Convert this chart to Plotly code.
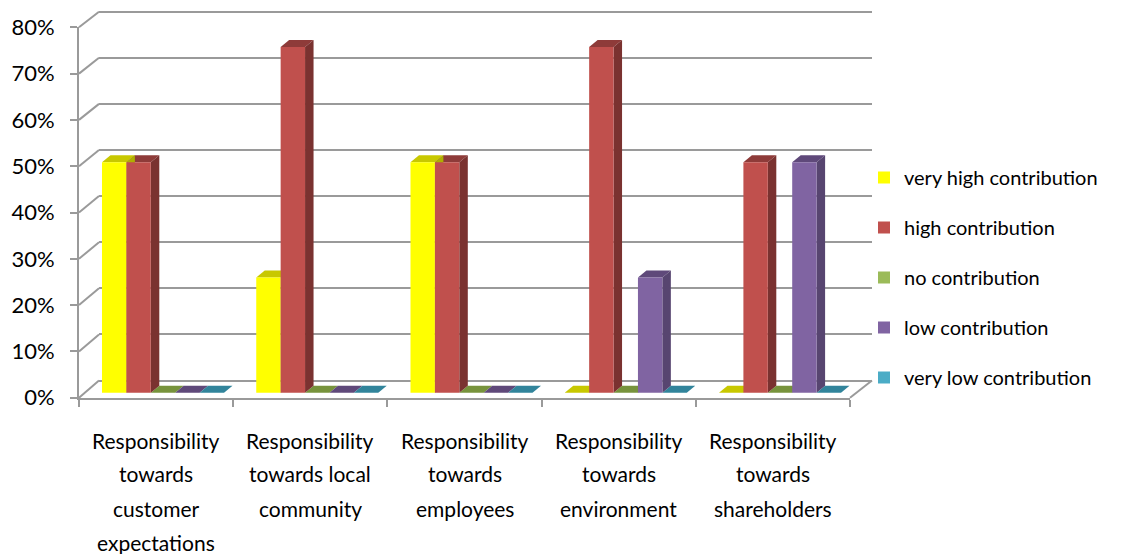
import plotly.graph_objects as go

# ---------------- data ----------------
categories = [
    "Responsibility towards customer expectations",
    "Responsibility towards local community",
    "Responsibility towards employees",
    "Responsibility towards environment",
    "Responsibility towards shareholders",
]
category_lines = [
    ["Responsibility", "towards", "customer", "expectations"],
    ["Responsibility", "towards local", "community"],
    ["Responsibility", "towards", "employees"],
    ["Responsibility", "towards", "environment"],
    ["Responsibility", "towards", "shareholders"],
]
series_names = ["very high contribution", "high contribution", "no contribution",
                "low contribution", "very low contribution"]
very_high = [0.50, 0.25, 0.50, 0.00, 0.00]
high = [0.50, 0.75, 0.50, 0.75, 0.50]
no_contrib = [0.00, 0.00, 0.00, 0.00, 0.00]
low = [0.00, 0.00, 0.00, 0.25, 0.50]
very_low = [0.00, 0.00, 0.00, 0.00, 0.00]
y_ticks = [0.0, 0.1, 0.2, 0.3, 0.4, 0.5, 0.6, 0.7, 0.8]

front_colors = ["#FFFF00", "#C0504D", "#9BBB59", "#8064A2", "#4BACC6"]
top_colors = ["#C8C800", "#8E3B39", "#77933C", "#5F497A", "#31849B"]
side_colors = ["#B0B000", "#7A3230", "#657D33", "#574570", "#2A7185"]

series = [very_high, high, no_contrib, low, very_low]

# ---------------- geometry (pixels) ----------------
W, H = 1130, 554
FONT = "Lato"
GRID = "#9A9A9A"

def px_x(p):
    return p / W

def px_y(p):
    return 1 - p / H

# bar / back-wall plane
PL, PR = 99, 872
TOP_PX, BOT_PX = 5, 400
BAR_BASE, SCALE = 392.7, 461.0
CAT_PX, FIRST_C = 154.25, 163.0
x_range = [(PL - FIRST_C) / CAT_PX, (PR - FIRST_C) / CAT_PX]
y_range = [-(BOT_PX - BAR_BASE) / SCALE, (BAR_BASE - TOP_PX) / SCALE]
BACK_BASE = 380.5
grid_off = (BAR_BASE - BACK_BASE) / SCALE

# front plane
FL, FR = 79, 850
F_BASE, F_SCALE = 397.7, 463.0

def front_px(v):
    return F_BASE - F_SCALE * v

def back_px(v):
    return BACK_BASE - SCALE * v

gap = 0.209
n = len(series)
w = (1 - gap) / n
DXU = 8.5 / CAT_PX
DYU = 7.0 / SCALE

fig = go.Figure()
xs = list(range(len(categories)))
for i, (name, vals) in enumerate(zip(series_names, series)):
    fig.add_trace(go.Bar(
        x=xs, y=vals, name=name, marker=dict(color=front_colors[i], line=dict(width=0)),
        legendgroup=name, xaxis="x", yaxis="y", hoverinfo="skip",
    ))

shapes = []
tops, sides = [], []
for i, vals in enumerate(series):
    off = -(1 - gap) / 2 + w * (i + 0.5)
    for k, v in enumerate(vals):
        c = k + off
        x0, x1 = c - w / 2, c + w / 2
        tops.append(dict(type="path", xref="x", yref="y", layer="between",
                         path=f"M{x0},{v} L{x0+DXU},{v+DYU} L{x1+DXU},{v+DYU} L{x1},{v} Z",
                         fillcolor=top_colors[i], line=dict(width=0)))
        if v > 0:
            sides.append(dict(type="path", xref="x", yref="y", layer="between",
                              path=f"M{x1},0 L{x1+DXU},{DYU} L{x1+DXU},{v+DYU} L{x1},{v} Z",
                              fillcolor=side_colors[i], line=dict(width=0)))
shapes += tops + sides

# side-wall stubs and floor edge
for v in y_ticks:
    shapes.append(dict(type="line", xref="paper", yref="paper",
                       x0=px_x(FL), y0=px_y(front_px(v)), x1=px_x(PL), y1=px_y(back_px(v)),
                       line=dict(color=GRID, width=2), layer="below"))
shapes.append(dict(type="line", xref="paper", yref="paper",
                   x0=px_x(FR), y0=px_y(front_px(0)), x1=px_x(PR), y1=px_y(back_px(0)),
                   line=dict(color=GRID, width=2), layer="below"))

annotations = []
for k, lines in enumerate(category_lines):
    for j, t in enumerate(lines):
        annotations.append(dict(x=k, xref="x3", y=px_y(440 + 34 * j), yref="paper",
                                text=t, showarrow=False, xanchor="center", yanchor="middle",
                                font=dict(family=FONT, size=21, color="#000000")))

fig.update_layout(
    width=W, height=H, margin=dict(l=0, r=0, t=0, b=0, autoexpand=False),
    paper_bgcolor="white", plot_bgcolor="rgba(0,0,0,0)",
    barmode="group", bargap=gap, bargroupgap=0,
    font=dict(family=FONT, color="#000000"),
    xaxis=dict(domain=[px_x(PL), px_x(PR)], range=x_range, visible=False, anchor="y",
               automargin=False),
    yaxis=dict(domain=[px_y(BOT_PX), px_y(TOP_PX)], range=y_range, anchor="x",
               tickvals=[v + grid_off for v in y_ticks], showgrid=True,
               gridcolor=GRID, gridwidth=2, showticklabels=False, ticks="",
               showline=False, zeroline=False, automargin=False),
    xaxis3=dict(domain=[px_x(FL), px_x(FR)], range=[-0.5, len(categories) - 0.5],
                anchor="y3", showgrid=False, zeroline=False, showline=True,
                linecolor=GRID, linewidth=2, ticks="outside", ticklen=7, tickwidth=2,
                tickcolor=GRID, tickvals=[k - 0.5 for k in range(len(categories) + 1)],
                showticklabels=False, automargin=False),
    yaxis3=dict(domain=[px_y(F_BASE), px_y(front_px(y_ticks[-1]))],
                range=[0, y_ticks[-1]], anchor="x3", showgrid=False, zeroline=False,
                showline=True, linecolor=GRID, linewidth=2, ticks="outside", ticklen=7,
                tickwidth=2, tickcolor=GRID, tickvals=y_ticks, tickformat=".0%",
                tickfont=dict(family=FONT, size=22, color="#000000"),
                ticklabelstandoff=11, automargin=False),
    legend=dict(x=px_x(864), y=px_y(158), xanchor="left", yanchor="top",
                font=dict(family=FONT, size=20, color="#000000"),
                tracegroupgap=21, bgcolor="rgba(0,0,0,0)", traceorder="grouped"),
    shapes=shapes, annotations=annotations, showlegend=True,
)

fig.add_trace(go.Scatter(x=[], y=[], xaxis="x3", yaxis="y3", showlegend=False))

fig.write_html("out.html", post_script="document.body.style.margin='0';",
               config={"displayModeBar": False})
